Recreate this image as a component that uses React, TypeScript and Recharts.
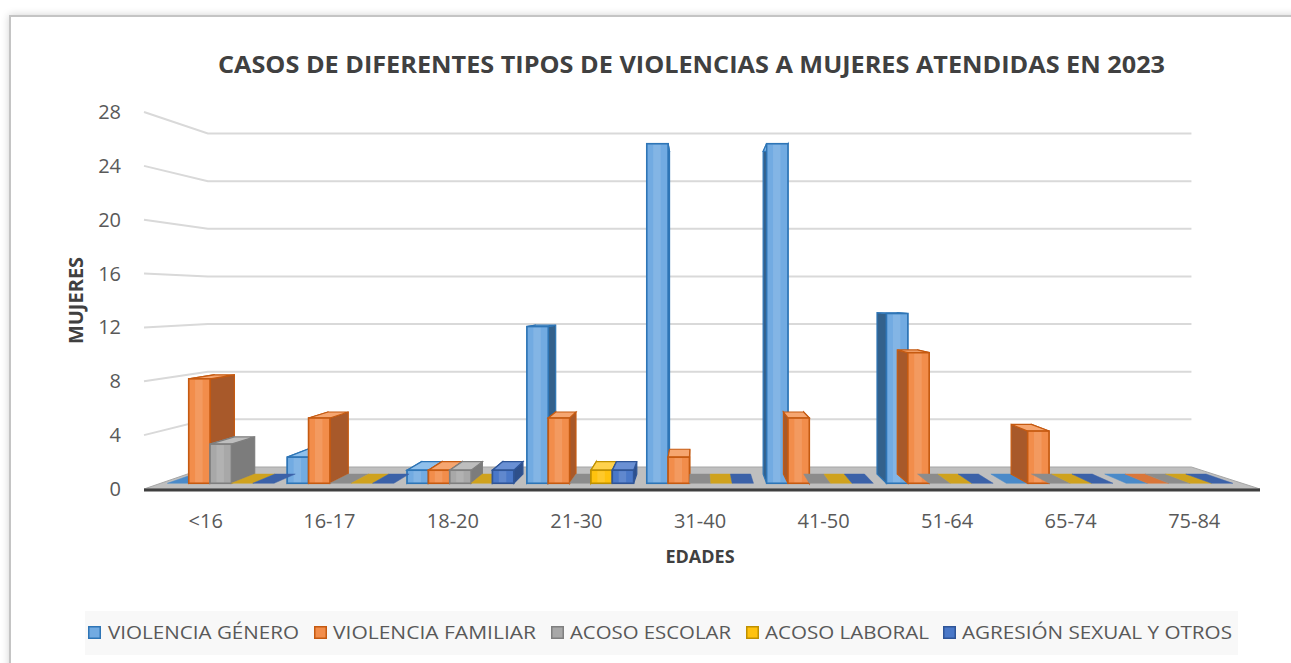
import React from 'react';
import { BarChart, Bar, XAxis, YAxis, CartesianGrid, Legend } from 'recharts';

// ---------- data ----------
const categories = ['<16', '16-17', '18-20', '21-30', '31-40', '41-50', '51-64', '65-74', '75-84'];
const violenciaGenero = [0, 2, 1, 12, 26, 26, 13, 0, 0];
const violenciaFamiliar = [8, 5, 1, 5, 2, 5, 10, 4, 0];
const acosoEscolar = [3, 0, 1, 0, 0, 0, 0, 0, 0];
const acosoLaboral = [0, 0, 0, 1, 0, 0, 0, 0, 0];
const agresionSexual = [0, 0, 1, 1, 0, 0, 0, 0, 0];
const yTicks = [0, 4, 8, 12, 16, 20, 24, 28];
const seriesNames = ['VIOLENCIA GÉNERO', 'VIOLENCIA FAMILIAR', 'ACOSO ESCOLAR', 'ACOSO LABORAL', 'AGRESIÓN SEXUAL Y OTROS'];
const title = 'CASOS DE DIFERENTES TIPOS DE VIOLENCIAS A MUJERES ATENDIDAS EN 2023';
const xTitle = 'EDADES';
const yTitle = 'MUJERES';

const data = categories.map((c, i) => ({
  cat: c,
  vg: violenciaGenero[i],
  vf: violenciaFamiliar[i],
  ae: acosoEscolar[i],
  al: acosoLaboral[i],
  as: agresionSexual[i],
}));

// ---------- styles ----------
const FONT = '"Open Sans", "DejaVu Sans", sans-serif';
const W = 1291;
const H = 663;
const MARGIN = { top: 112, right: 35, bottom: 0, left: 60 };
const LEGEND_H = 44;
const XAXIS_H = 130;
const PLOT_BOTTOM = H - MARGIN.bottom - LEGEND_H - XAXIS_H;

// perspective
const VX = 697;
const VY = 298.5;
const K_WALL = 0.1155;
const K_FRONT = 0.03;
const K_BAR = 0.05;
const fx = (X: number) => X + (VX - X) * K_FRONT;
const fy = (Y: number) => Y + (VY - Y) * K_FRONT;
const bx = (X: number) => fx(X) + (VX - fx(X)) * K_BAR;
const by = (Y: number) => fy(Y) + (VY - fy(Y)) * K_BAR;

type Style = { fill: string; stroke: string; side: string; top: string; slab: string };
const styles: Style[] = [
  { fill: '#72ABE2', stroke: '#2E75B6', side: '#33618C', top: '#8FC0EC', slab: '#4A8AC9' },
  { fill: '#F28D4B', stroke: '#C55A11', side: '#A8592A', top: '#F6A670', slab: '#D9763A' },
  { fill: '#A8A8A8', stroke: '#7F7F7F', side: '#7C7C7C', top: '#BEBEBE', slab: '#8C8C8C' },
  { fill: '#FFC20E', stroke: '#BF9000', side: '#C49200', top: '#FFD24D', slab: '#CFA21E' },
  { fill: '#4A78C8', stroke: '#2F5597', side: '#2E4F8A', top: '#6A90D4', slab: '#3C62A8' },
];
const keys = ['vg', 'vf', 'ae', 'al', 'as'];

const pts = (arr: number[][]) => arr.map((p) => `${p[0].toFixed(2)},${p[1].toFixed(2)}`).join(' ');

const make3DShape = (s: Style) => (props: any) => {
  const { x, y, width: w } = props;
  const h = props.height || 0;
  if (x == null || w == null) return <g />;
  const X0 = fx(x);
  const X1 = fx(x + w);
  const Yt = fy(y);
  const Yb = fy(y + h);
  if (h <= 0.5) {
    return (
      <polygon
        points={pts([[X0, Yb], [X1, Yb], [bx(x + w), by(y + h)], [bx(x), by(y + h)]])}
        fill={s.slab}
        stroke={s.slab}
        strokeWidth={0.5}
      />
    );
  }
  const left = [[X0, Yt], [bx(x), by(y)], [bx(x), by(y + h)], [X0, Yb]];
  const right = [[X1, Yt], [bx(x + w), by(y)], [bx(x + w), by(y + h)], [X1, Yb]];
  const top = [[X0, Yt], [X1, Yt], [bx(x + w), by(y)], [bx(x), by(y)]];
  const fw = X1 - X0;
  const fh = Yb - Yt;
  return (
    <g>
      <polygon points={pts(left)} fill={s.side} stroke={s.stroke} strokeWidth={1.2} />
      <polygon points={pts(right)} fill={s.side} stroke={s.stroke} strokeWidth={1.2} />
      <polygon points={pts(top)} fill={s.top} stroke={s.stroke} strokeWidth={1.2} />
      <rect x={X0} y={Yt} width={fw} height={fh} fill={s.fill} stroke={s.stroke} strokeWidth={1.6} />
      <rect x={X0 + fw * 0.3} y={Yt + 1} width={fw * 0.35} height={Math.max(0, fh - 2)} fill="#ffffff" opacity={0.12} />
    </g>
  );
};

const gridLine = (p: any) => {
  const { x1, x2, y1 } = p;
  const yb = y1 + (VY - y1) * K_WALL;
  const xl = x1 + (VX - x1) * K_WALL;
  const xr = x2 - (x2 - VX) * K_WALL;
  if (Math.abs(y1 - PLOT_BOTTOM) < 1.5) {
    return (
      <g key={p.key}>
        <polygon points={pts([[x1, y1], [x2 + 4, y1], [xr, yb], [xl, yb]])} fill="#BFBFBF" stroke="#A6A6A6" strokeWidth={1} />
        <line x1={x1} y1={y1 + 1} x2={x2 + 4} y2={y1 + 1} stroke="#3F3F3F" strokeWidth={3} />
      </g>
    );
  }
  return (
    <polyline
      key={p.key}
      points={pts([[x1, y1], [xl, yb], [xr, yb]])}
      fill="none"
      stroke="#D9D9D9"
      strokeWidth={2}
    />
  );
};

const XTick = (p: any) => (
  <text x={p.x} y={p.y + 39} textAnchor="middle" fontSize={20} fontFamily={FONT} fill="#595959">
    {p.payload.value}
  </text>
);
const YTick = (p: any) => (
  <text x={p.x} y={p.y + 7} textAnchor="end" fontSize={20} fontFamily={FONT} fill="#595959">
    {p.payload.value}
  </text>
);

// legend layout (px within page)
const legendSquareX = [88, 314, 551, 746, 943];
const legendTextX = [108, 333, 570, 765, 962];
const legendTextLen = [191, 203, 161, 164, 270];

const LegendContent = () => (
  <svg width={W} height={LEGEND_H} style={{ display: 'block' }}>
    <rect x={85} y={0} width={1153} height={LEGEND_H} fill="#F8F8F8" />
    {seriesNames.map((n, i) => (
      <g key={n}>
        <rect x={legendSquareX[i] + 0.75} y={15.75} width={11.5} height={11.5} fill={styles[i].fill} stroke={styles[i].stroke} strokeWidth={1.5} />
        <text
          x={legendTextX[i]}
          y={28}
          fontSize={18}
          fontFamily={FONT}
          fill="#595959"
          textLength={legendTextLen[i]}
          lengthAdjust="spacingAndGlyphs"
        >
          {n}
        </text>
      </g>
    ))}
  </svg>
);

export default function App() {
  return (
    <div style={{ position: 'absolute', left: 0, top: 0, width: W, height: H, overflow: 'hidden', background: '#fff' }}>
      <div
        style={{
          position: 'absolute',
          left: 9,
          top: 15,
          width: 1400,
          height: 800,
          border: '2px solid #C4C4C4',
          boxShadow: '0 0 8px rgba(0,0,0,0.18)',
          background: '#fff',
        }}
      />
      <div style={{ position: 'absolute', left: 0, top: 0 }}>
        <BarChart width={W} height={H} data={data} margin={MARGIN} barCategoryGap={7} barGap={0}>
          <CartesianGrid vertical={false} horizontal={gridLine} />
          <XAxis
            dataKey="cat"
            interval={0}
            axisLine={false}
            tickLine={false}
            tickSize={0}
            tickMargin={0}
            height={XAXIS_H}
            tick={XTick}
            label={{
              value: xTitle,
              content: (lp: any) => {
                const vb = lp.viewBox || { x: 144, y: PLOT_BOTTOM, width: 1112 };
                return (
                  <text x={vb.x + vb.width / 2} y={vb.y + 74} textAnchor="middle" fontSize={18} fontWeight={700} fontFamily={FONT} fill="#404040">
                    {xTitle}
                  </text>
                );
              },
            }}
          />
          <YAxis
            domain={[0, 28]}
            ticks={yTicks}
            interval={0}
            width={84}
            axisLine={false}
            tickLine={false}
            tickSize={0}
            tickMargin={23}
            tick={YTick}
            label={{
              value: yTitle,
              content: (lp: any) => {
                const vb = lp.viewBox || { x: 60, y: MARGIN.top, height: 377 };
                const cx = vb.x + 15;
                const cy = vb.y + vb.height / 2;
                return (
                  <text
                    x={cx}
                    y={cy}
                    transform={`rotate(-90, ${cx}, ${cy})`}
                    textAnchor="middle"
                    dominantBaseline="central"
                    fontSize={20}
                    fontWeight={700}
                    fontFamily={FONT}
                    fill="#404040"
                  >
                    {yTitle}
                  </text>
                );
              },
            }}
          />
          <Legend
            verticalAlign="bottom"
            content={LegendContent}
            wrapperStyle={{ left: 0, top: 611, bottom: 'auto', width: W, height: LEGEND_H }}
          />
          {keys.map((k, i) => (
            <Bar key={k} dataKey={k} name={seriesNames[i]} isAnimationActive={false} shape={make3DShape(styles[i])} />
          ))}
        </BarChart>
      </div>
      <svg width={W} height={H} style={{ position: 'absolute', left: 0, top: 0, pointerEvents: 'none' }}>
        <text
          x={691.5}
          y={73}
          textAnchor="middle"
          fontSize={23}
          fontWeight={700}
          fontFamily={FONT}
          fill="#404040"
          textLength={947}
          lengthAdjust="spacingAndGlyphs"
        >
          {title}
        </text>
      </svg>
    </div>
  );
}
